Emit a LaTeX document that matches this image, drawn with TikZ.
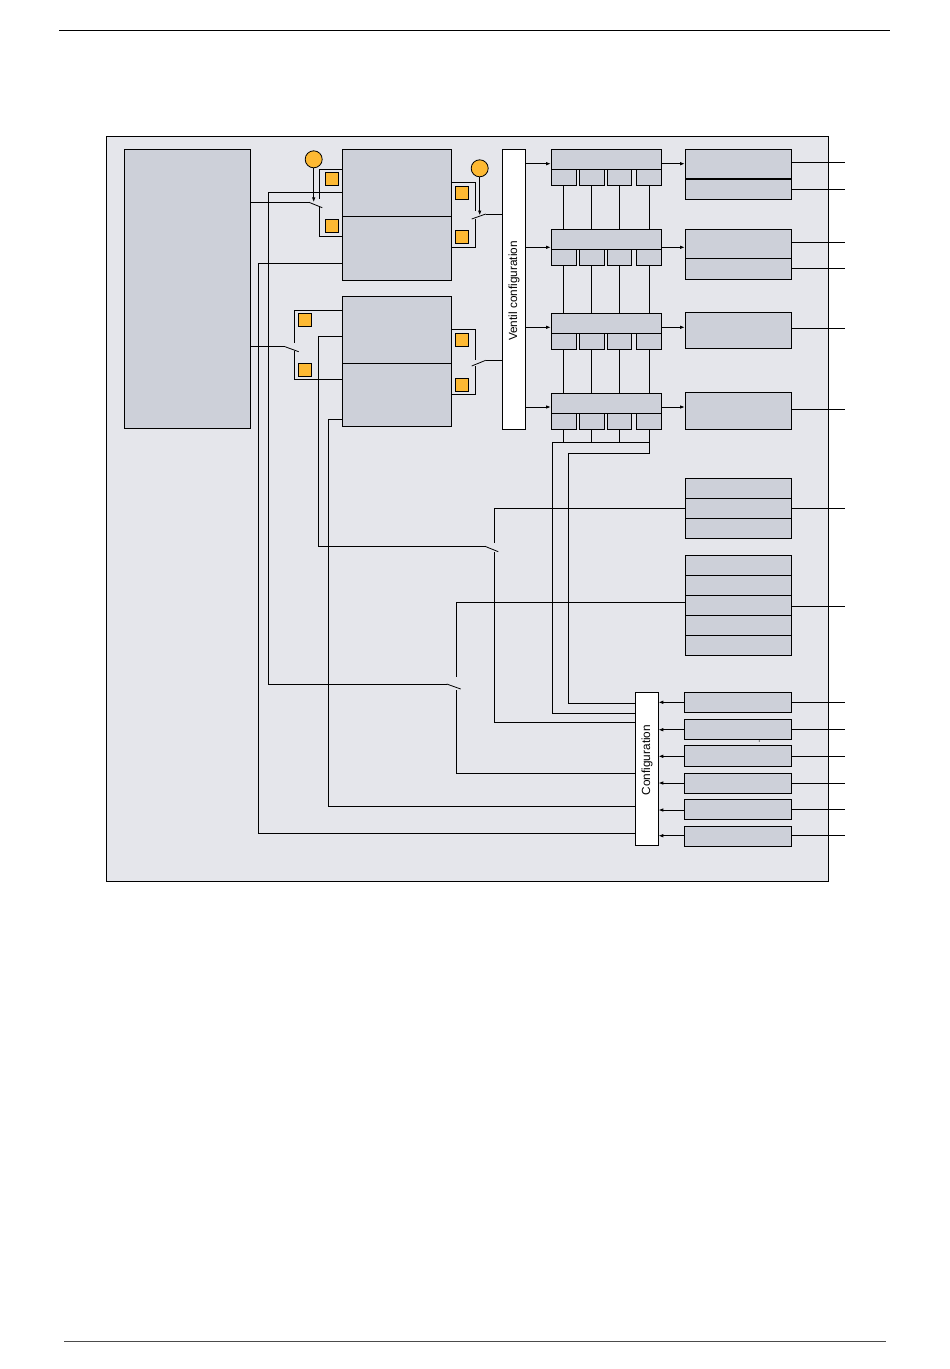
\documentclass[tikz,border=0pt]{standalone}
\usepackage{fontspec}
\setmainfont{Liberation Sans}
\usetikzlibrary{arrows.meta}
\definecolor{framebg}{HTML}{E5E6EB}
\definecolor{boxbg}{HTML}{CDD0D9}
\definecolor{amber}{HTML}{FDB933}
\newcommand{\mybox}[6][]{\node[box,minimum width=#5pt,minimum height=#6pt,#1] (#2) at (#3,#4) {};}
\begin{document}
\begin{tikzpicture}[x=1pt,y=-1pt,line width=1pt,
 box/.style={draw,fill=boxbg,inner sep=0pt,outer sep=0pt,anchor=north west},
 whitebox/.style={fill=white},
 sq/.style={draw,fill=amber,minimum size=13pt,inner sep=0pt,line width=0.8pt},
 bulb/.style={draw,fill=amber,circle,minimum size=17pt,inner sep=0pt,line width=0.8pt},
 arr/.style={-{Latex[length=5pt,width=3.6pt]}},
 blade/.style={line width=0.8pt},
 lbl/.style={rotate=90,font=\fontsize{11.8}{14}\selectfont,inner sep=0pt}]
\useasboundingbox (0,0) rectangle (950,1369);
% page rules
\coordinate (tl) at (59,30.5); \coordinate (tr) at (890,30.5);
\coordinate (bl) at (64,1341); \coordinate (br) at (886,1341);
\draw[line width=1.3pt] (tl) -- (tr);
\draw[line width=1pt,black!70] (bl) -- (br);
% frame
\mybox[fill=framebg]{frame}{106.3}{136.3}{722.2}{745}
% main blocks
\mybox{big}{124.3}{149.3}{126.4}{279}
\mybox{blkAt}{342.3}{149.3}{109}{67}
\mybox{blkAb}{342.3}{216.3}{109}{63.7}
\mybox{blkBt}{342.3}{296}{109}{67.3}
\mybox{blkBb}{342.3}{363.3}{109}{63}
\mybox[whitebox]{ventil}{502.5}{149.3}{23}{280}
\mybox[whitebox]{config}{635.3}{692.3}{23}{152.7}
\node[lbl] (vtxt) at (514,291) {Ventil configuration};
\node[lbl] (ctxt) at (647,760) {Configuration};
% valve blocks
\foreach \i/\h/\t in {1/149.3/169.3,2/229.3/249.3,3/313.3/333.3,4/393/413}{
  \mybox{v\i}{551}{\h}{110.7}{20}
  \mybox{s\i-1}{551}{\t}{25}{16}
  \mybox{s\i-2}{579}{\t}{25.3}{16}
  \mybox{s\i-3}{607.3}{\t}{24}{16}
  \mybox{s\i-4}{636.3}{\t}{25.4}{16}
}
\foreach \i/\j in {1/2,2/3,3/4}{
  \foreach \k in {1,2,3,4}{
    \draw (s\i-\k.south) -- (v\j.north -| s\i-\k.south);
  }
}
% output boxes
\mybox{o1a}{685}{149.3}{106.7}{29.7}
\mybox{o1b}{685}{179}{106.7}{20.3}
\draw[line width=2pt] (o1a.south west) -- (o1a.south east);
\mybox{o2a}{685}{229.3}{106.7}{29}
\mybox{o2b}{685}{258.3}{106.7}{20.7}
\mybox{o3}{685}{312.3}{106.7}{36}
\mybox{o4}{685}{392.3}{106.7}{37}
\foreach \k/\t in {1/478.3,2/498.3,3/518.3}{\mybox{a\k}{685.3}{\t}{106}{20}}
\foreach \k/\t in {1/555.3,2/575.3,3/595.3,4/615.3,5/635.3}{\mybox{b\k}{685.3}{\t}{106}{20}}
\foreach \k/\t/\hh in {1/692.3/20,2/719.3/20,3/745.3/21,4/773.3/20,5/799.3/20,6/826.3/20}{\mybox{c\k}{684.3}{\t}{107}{\hh}}
\fill (759.3,741) circle (0.6pt);
% arrows ventil -> valves -> outputs
\foreach \i/\o/\y in {1/o1a/163.7,2/o2a/247.3,3/o3/327.3,4/o4/407}{
  \draw[arr] (ventil.east |- 0,\y) -- (v\i.west |- 0,\y);
  \draw[arr] (v\i.east |- 0,\y) -- (\o.west |- 0,\y);
}
% outputs to the right edge
\foreach \n/\o/\y in {1/o1a/162,2/o1b/189,3/o2a/242.7,4/o2b/268.7,5/o3/328.7,6/o4/409,7/a2/508.3,8/b3/606}{
  \coordinate (e\n) at (845,\y);
  \draw (\o.east |- e\n) -- (e\n);
}
% sensors
\foreach \k/\y/\z in {1/702.3/702.7,2/729.7/729.7,3/756.3/756.3,4/783/783,5/810/809.7,6/835.7/835.3}{
  \draw[arr] (c\k.west |- 0,\y) -- (config.east |- 0,\y);
  \coordinate (f\k) at (845,\z);
  \draw (c\k.east |- f\k) -- (f\k);
}
% orange indicators
\node[sq] (qA1) at (332.2,179.3) {};
\node[sq] (qA2) at (332.2,226.3) {};
\node[sq] (qA3) at (461.8,192.8) {};
\node[sq] (qA4) at (461.8,236.8) {};
\node[sq] (qB1) at (305,319.7) {};
\node[sq] (qB2) at (305,370.3) {};
\node[sq] (qB3) at (461.8,339.8) {};
\node[sq] (qB4) at (461.8,384.8) {};
\node[bulb] (bulb1) at (313.7,159.3) {};
\node[bulb] (bulb2) at (479.7,168.3) {};
% block A switches
\coordinate (swA1) at (309,202.3); \coordinate (swA1e) at (322.3,207.7);
\draw (blkAt.west |- 0,169.3) -- (319.3,169.3) -- (319.3,199);
\draw (319.3,206.7) -- (319.3,236.3) -- (blkAb.west |- 0,236.3);
\draw (big.east |- swA1) -- (swA1);
\draw[blade] (swA1) -- (swA1e);
\draw[arr] (bulb1.south) -- (bulb1.south |- swA1);
\coordinate (swA2) at (471.7,219); \coordinate (swA2e) at (485.7,214);
\draw (blkAt.east |- 0,182.3) -- (475.7,182.3) -- (475.7,211);
\draw (475.7,219) -- (475.7,247.3) -- (blkAb.east |- 0,247.3);
\draw[blade] (swA2) -- (swA2e);
\draw (swA2e) -- (ventil.west |- swA2e);
\draw[arr] (bulb2.south) -- (bulb2.south |- 0,215.5);
% block B switches
\coordinate (swB1) at (285,346.7); \coordinate (swB1e) at (298.7,351.7);
\draw (blkBt.west |- 0,310.3) -- (294.3,310.3) -- (294.3,343.3);
\draw (294.3,350.5) -- (294.3,379.3) -- (blkBb.west |- 0,379.3);
\draw (big.east |- swB1) -- (swB1);
\draw[blade] (swB1) -- (swB1e);
\coordinate (swB2) at (471.7,366); \coordinate (swB2e) at (485.7,360.3);
\draw (blkBt.east |- 0,329.3) -- (475.7,329.3) -- (475.7,360);
\draw (475.7,366) -- (475.7,394.3) -- (blkBb.east |- 0,394.3);
\draw[blade] (swB2) -- (swB2e);
\draw (swB2e) -- (ventil.west |- swB2e);
% long feedback lines
\coordinate (swC1) at (446.7,684); \coordinate (swC1e) at (460.7,689);
\draw (blkAt.west |- 0,192.3) -- (268.7,192.3) -- (268.7,684) -- (swC1);
\draw[blade] (swC1) -- (swC1e);
\draw (b3.west |- 0,602.3) -- (456.7,602.3) -- (456.7,676.7);
\draw (456.7,690) -- (456.7,773.3) -- (config.west |- 0,773.3);
\draw (blkAb.west |- 0,263.3) -- (258.3,263.3) -- (258.3,833.3) -- (config.west |- 0,833.3);
\coordinate (swD1) at (485,546.3); \coordinate (swD1e) at (498.3,551.7);
\draw (blkBt.west |- 0,336.3) -- (318.3,336.3) -- (318.3,546.3) -- (swD1);
\draw[blade] (swD1) -- (swD1e);
\draw (a2.west |- 0,508.3) -- (494.5,508.3) -- (494.5,543.3);
\draw (494.5,552) -- (494.5,722.3) -- (config.west |- 0,722.3);
\draw (blkBb.west |- 0,419) -- (328.3,419) -- (328.3,806.3) -- (config.west |- 0,806.3);
% valve 4 to configuration
\foreach \k in {1,2,3}{\draw (s4-\k.south) -- (s4-\k.south |- 0,442.3);}
\coordinate (jn) at (552.3,442.3);
\draw (jn) -- (649.3,442.3);
\draw (s4-4.south) -- (s4-4.south |- 0,453.3) -- (568.3,453.3) -- (568.3,703.3) -- (config.west |- 0,703.3);
\draw (jn) -- (552.3,713.3) -- (config.west |- 0,713.3);
\end{tikzpicture}
\end{document}
